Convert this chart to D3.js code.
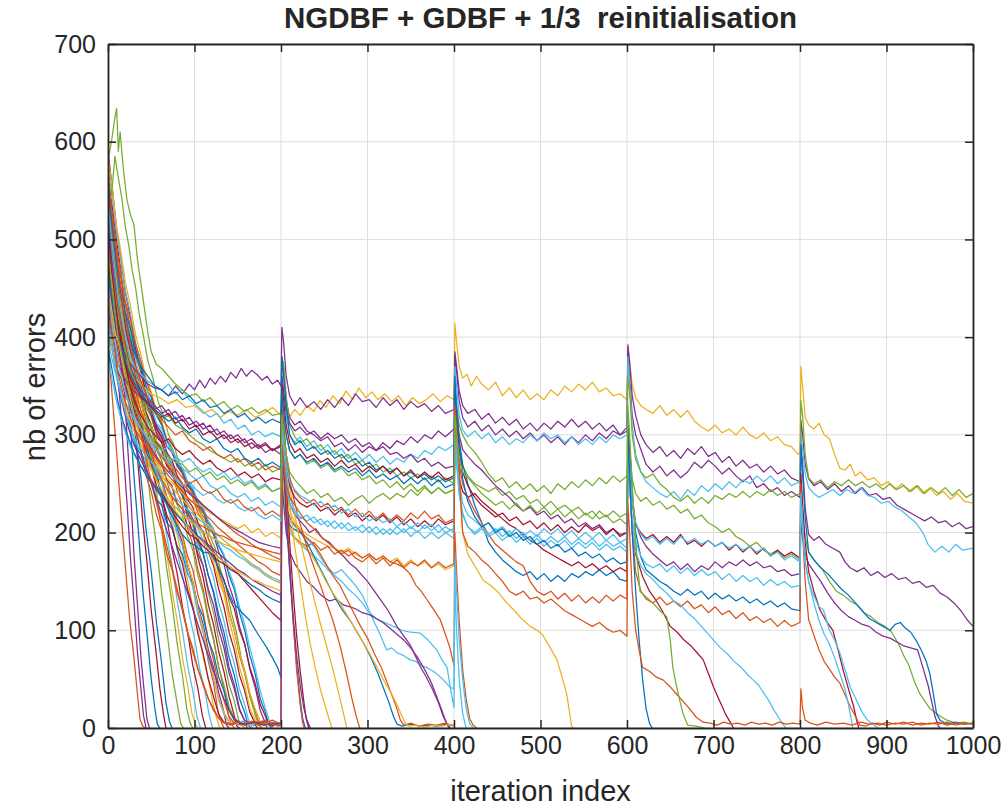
<!DOCTYPE html>
<html><head><meta charset="utf-8">
<script src="https://cdn.jsdelivr.net/npm/d3@7"></script>
<style>body{margin:0;background:#fff}svg{display:block}text{font-family:"Liberation Sans",Arial,Helvetica,sans-serif;fill:#262626}</style>
</head><body>
<script>
const titleText = "NGDBF + GDBF + 1/3  reinitialisation";
const xLabel = "iteration index";
const yLabel = "nb of errors";
const xTicks = [0,100,200,300,400,500,600,700,800,900,1000];
const yTicks = [0,100,200,300,400,500,600,700];
const palette = ["#0072BD","#D95319","#EDB120","#7E2F8E","#77AC30","#4DBEEE","#A2142F"];

// long runs: lines that survive one or more reinitialisations (iteration, errors pairs)
const longRuns = [
 [0,455,4,430,8,405,12,395,16,380,22,372,28,360,35,355,42,348,50,342,60,338,70,332,80,336,90,328,100,330,110,322,120,326,130,318,140,324,150,320,160,326,170,318,180,322,190,328,200,320,
  201,335,203,342,206,328,210,318,216,326,222,320,230,330,238,324,245,335,252,328,260,340,268,332,275,345,283,336,290,348,298,338,305,344,312,336,320,342,328,334,336,340,344,330,352,338,360,332,368,336,376,342,384,334,392,340,400,336,
  401,414,403,395,406,370,410,358,415,362,420,350,426,360,432,352,440,346,448,354,456,340,464,348,472,338,480,346,488,336,496,342,504,336,512,346,520,340,528,350,536,344,544,352,552,346,560,354,568,344,576,348,584,340,592,342,600,336,
  601,390,603,375,606,352,610,338,616,330,622,326,630,322,638,330,646,320,654,326,662,318,670,325,678,314,686,308,694,304,702,310,710,302,718,306,726,300,734,308,742,300,750,296,758,302,766,294,774,298,782,290,790,288,798,280,800,282,
  801,370,803,350,806,318,810,310,816,306,822,312,828,300,834,296,840,280,846,266,852,264,858,270,864,258,870,262,878,254,886,256,894,248,902,252,910,244,918,250,926,242,934,248,942,240,950,246,958,238,966,242,974,234,982,240,990,232,1000,230],
 [0,470,4,440,8,420,12,400,18,385,24,375,30,368,38,360,46,352,54,348,62,346,70,340,78,350,86,342,94,352,100,346,106,356,112,348,118,358,124,352,130,360,136,354,142,364,148,358,154,368,160,360,166,366,172,362,178,356,184,360,190,352,196,356,200,350,
  201,410,203,395,206,360,210,340,216,330,222,338,230,328,238,334,246,326,254,336,262,328,270,338,278,330,286,342,294,334,302,336,310,328,318,338,326,330,334,336,342,326,350,334,358,328,366,332,374,324,382,330,390,322,400,326,
  401,385,403,370,406,345,410,330,416,322,424,326,432,316,440,322,448,312,456,318,464,310,472,316,480,306,488,312,496,304,504,312,512,306,520,314,528,308,536,316,544,308,552,314,560,306,568,312,576,304,584,310,592,300,600,304,
  601,392,603,375,606,340,610,320,616,300,622,290,630,282,638,288,646,278,654,284,662,276,670,286,678,280,686,288,694,278,702,282,710,272,718,278,726,268,734,274,742,266,750,270,758,262,766,268,774,260,782,264,790,256,800,252,
  801,315,803,300,806,270,810,255,816,248,824,252,832,244,840,250,848,242,856,248,864,240,872,246,880,238,888,240,896,234,904,236,912,228,920,224,928,220,936,216,944,212,952,216,960,210,968,212,976,206,984,210,992,204,1000,206],
 [0,520,4,480,8,450,12,420,18,395,24,375,30,360,38,345,46,338,54,330,62,322,70,326,78,316,86,320,94,310,102,314,110,306,118,310,126,300,134,304,142,296,150,300,158,292,166,296,174,288,182,292,190,284,200,288,
  201,380,203,362,206,335,210,318,216,310,222,314,230,304,238,300,246,294,254,298,262,288,270,292,278,284,286,290,294,282,302,288,310,284,318,292,326,286,334,294,342,290,350,298,358,292,366,300,374,296,382,304,390,298,400,306,
  401,380,403,365,406,335,410,318,416,308,424,314,432,304,440,310,448,300,456,306,464,298,472,304,480,296,488,302,496,294,504,300,512,292,520,298,528,290,536,298,544,292,552,300,560,294,568,302,576,296,584,304,592,300,600,308,
  601,385,603,360,606,320,610,300,616,285,622,270,630,262,638,268,646,258,654,264,662,256,670,262,678,272,686,266,694,274,702,268,710,260,718,266,726,258,734,252,742,258,750,246,758,250,766,242,774,246,782,238,790,242,800,236,
  801,290,803,270,806,225,810,198,816,192,822,196,830,188,838,184,846,180,852,170,858,164,866,160,874,164,882,156,890,160,898,154,906,158,914,152,922,154,930,148,938,150,946,144,954,146,962,138,970,134,978,128,986,120,994,110,1000,104],
 [0,540,4,500,8,470,12,440,18,410,24,385,30,370,38,362,46,355,54,350,62,346,70,352,78,342,86,346,94,336,102,330,110,324,118,318,126,322,134,312,142,316,150,306,158,310,166,300,174,304,182,298,190,302,200,298,
  201,360,203,345,206,320,210,300,216,292,222,298,230,288,238,294,246,284,254,290,262,280,270,286,278,276,286,282,294,274,302,280,310,272,318,278,326,270,334,276,342,272,350,280,358,276,366,284,374,280,382,288,390,284,400,290,
  401,370,403,350,406,320,410,305,416,298,424,304,432,296,440,302,448,292,456,298,464,290,472,296,480,292,488,300,496,294,504,302,512,296,520,300,528,292,536,298,544,290,552,296,560,290,568,298,576,292,584,300,592,296,600,300,
  601,380,603,355,606,310,610,280,616,262,622,252,630,246,638,240,646,236,654,242,662,234,670,244,678,238,686,248,694,242,702,250,710,244,718,252,726,246,734,254,742,250,750,258,758,252,766,258,774,250,782,256,790,248,800,252,
  801,300,803,285,806,260,810,246,816,240,822,236,830,240,838,244,846,238,854,244,862,240,870,246,878,238,886,236,894,230,902,232,910,226,918,222,926,216,934,210,942,200,948,188,956,180,964,186,972,180,980,188,988,182,1000,184],
 [0,580,4,600,8,625,10,634,12,590,14,610,18,570,22,540,26,525,30,515,34,480,38,455,42,430,46,405,50,385,56,372,62,368,70,360,78,352,86,346,94,340,102,342,110,334,118,338,126,330,134,334,142,326,150,330,158,324,166,328,174,322,182,326,190,320,200,322,
  201,370,203,375,206,340,210,310,216,298,222,292,230,296,238,286,246,290,254,280,262,284,270,276,278,280,286,270,294,274,302,266,310,270,318,262,326,266,334,258,342,262,350,256,358,260,366,254,374,258,382,252,390,256,400,250,
  401,350,403,330,406,310,410,300,416,290,424,282,432,272,440,260,448,252,456,256,464,246,472,252,480,244,488,250,496,242,504,248,512,240,520,250,528,244,536,252,544,246,552,254,560,248,568,256,576,250,584,258,592,252,600,258,
  601,360,603,345,606,300,610,275,616,262,622,256,630,260,638,250,646,244,654,236,662,232,670,238,678,230,686,236,694,230,702,238,710,234,718,240,726,236,734,242,742,236,750,242,758,238,766,244,774,238,782,242,790,236,800,240,
  801,335,803,320,806,280,810,256,816,250,824,254,832,246,840,252,848,248,856,254,864,248,872,252,880,246,888,250,896,244,904,250,912,244,920,248,928,242,936,248,944,240,952,246,960,240,968,246,976,238,984,244,992,236,1000,240],
 [0,500,4,470,8,445,12,420,18,395,24,372,30,355,38,340,46,330,54,322,62,316,70,320,78,310,86,306,94,300,102,294,110,290,118,284,126,280,134,276,142,272,150,276,158,268,166,272,174,264,182,270,190,262,200,266,
  201,330,203,320,206,300,210,284,216,276,222,280,230,270,238,274,246,266,254,270,262,262,270,266,278,258,286,262,294,254,302,258,310,250,318,254,326,246,334,252,342,244,350,250,358,242,366,248,374,240,382,246,390,240,400,244,
  401,330,403,310,406,285,410,268,416,258,424,250,432,246,440,242,448,246,456,238,464,242,472,234,480,238,488,230,496,234,504,226,512,232,520,224,528,228,536,222,544,226,552,218,560,222,568,214,576,218,584,210,592,214,600,208,
  601,300,603,285,606,255,610,240,616,232,622,236,630,228,638,232,646,224,654,228,662,220,670,224,678,214,686,218,694,210,702,206,710,200,718,204,726,196,734,192,742,186,750,190,758,182,766,178,774,182,782,174,790,178,800,172,
  801,230,803,215,806,195,810,180,818,170,826,162,834,150,842,140,850,136,858,130,866,126,874,118,882,114,890,108,898,104,906,98,914,86,920,74,926,64,932,48,938,36,944,28,950,20,956,16,962,12,970,8,980,5,990,6,1000,4],
 [0,430,4,405,8,390,12,372,18,360,24,350,30,345,38,338,46,332,54,326,62,330,70,320,78,324,86,314,94,318,102,308,110,312,118,302,126,306,134,296,142,300,150,292,158,296,166,286,174,290,182,282,190,286,200,280,
  201,360,203,345,206,325,210,312,216,304,222,308,230,300,238,304,246,296,254,302,262,296,270,300,278,292,286,296,294,288,302,292,310,284,318,288,326,280,334,282,342,276,350,280,358,272,366,276,374,268,382,272,390,266,400,268,
  401,345,403,325,406,300,410,285,416,278,424,270,432,264,440,256,448,248,456,242,464,236,472,228,480,222,488,226,496,218,504,222,512,214,520,218,528,210,536,214,544,206,552,210,560,204,568,208,576,200,584,204,592,198,600,200,
  601,290,603,270,606,235,610,210,616,195,622,186,630,178,638,172,646,166,654,170,662,162,670,168,678,160,686,166,694,162,702,170,710,164,718,170,726,166,734,172,742,166,750,170,758,164,766,166,774,160,782,162,790,156,800,158,
  801,210,803,195,806,178,810,168,816,160,824,150,832,138,840,128,848,120,856,114,864,110,872,106,880,104,888,98,896,94,904,92,912,88,920,84,928,82,936,80,942,62,948,44,952,28,956,12,960,2,962,0],
 [0,560,4,520,8,490,12,460,18,430,24,405,30,385,38,370,46,360,54,350,62,346,70,340,78,344,86,336,94,340,102,332,110,336,118,328,126,330,134,322,142,326,150,318,158,322,166,314,174,318,182,312,190,316,200,312,
  201,380,203,362,206,330,210,300,216,290,222,294,230,284,238,288,246,280,254,284,262,276,270,280,278,272,286,276,294,268,302,272,310,264,318,268,326,262,334,266,342,258,350,262,358,256,366,260,374,254,382,258,390,252,400,256,
  401,340,403,320,406,295,410,270,416,250,424,228,432,210,440,190,448,180,456,172,464,166,472,160,480,156,488,160,496,152,504,158,512,150,520,156,528,150,536,158,544,154,552,160,560,156,568,162,576,156,584,160,592,152,600,150,
  601,320,603,290,606,240,610,200,616,175,622,162,630,156,638,150,646,146,654,140,662,136,670,142,678,136,686,140,694,132,702,138,710,132,718,136,726,130,734,134,742,128,750,132,758,126,766,130,774,124,782,128,790,122,800,120,
  801,290,803,260,806,215,810,180,816,172,824,164,832,158,840,150,848,142,856,136,864,128,872,120,880,112,888,108,896,104,904,100,910,106,916,108,922,102,928,98,934,90,940,80,946,68,950,56,954,36,958,14,962,8,970,4,980,6,990,4,1000,5],
 [0,480,4,450,8,425,12,400,18,380,24,362,30,350,38,340,46,332,54,324,62,318,70,322,78,312,86,316,94,306,102,310,110,300,118,304,126,296,134,300,142,292,150,296,158,288,166,292,174,286,182,290,190,284,200,290,
  201,350,203,335,206,310,210,292,216,282,222,286,230,276,238,280,246,272,254,276,262,268,270,274,278,266,286,270,294,262,302,268,310,262,318,268,326,260,334,266,342,258,350,264,358,256,366,262,374,256,382,262,390,254,400,258,
  401,330,403,310,406,285,410,262,416,248,424,236,432,228,440,222,448,216,456,220,464,212,472,216,480,208,488,212,496,204,504,210,512,202,520,208,528,200,536,206,544,200,552,208,560,202,568,206,576,198,584,204,592,196,600,200,
  601,300,603,270,606,230,610,208,616,200,622,194,630,198,638,190,646,196,654,190,662,198,670,188,678,192,686,186,694,192,702,186,710,190,718,182,726,188,734,180,742,186,750,178,758,184,766,176,774,182,782,176,790,180,800,174,
  801,260,803,230,806,190,810,160,816,140,823,121,830,110,838,100,844,80,850,59,856,40,862,22,866,6,868,0],
 [0,510,4,470,8,440,12,410,18,380,24,355,30,336,38,320,46,308,54,300,62,292,70,296,78,286,86,280,94,284,102,276,110,270,118,274,126,266,134,262,142,266,150,258,158,262,166,256,174,260,182,252,190,256,200,254,
  201,320,203,300,206,270,210,248,216,236,222,230,230,226,238,230,246,222,254,226,262,218,270,224,278,216,286,220,294,212,302,218,310,212,318,218,326,210,334,216,342,208,350,214,358,206,366,212,374,206,382,214,390,208,400,212,
  401,300,403,280,406,255,410,242,416,236,424,240,432,232,440,226,448,220,456,214,464,208,472,204,480,198,488,192,496,188,504,182,512,178,520,174,528,170,536,166,544,170,552,164,560,168,568,162,576,166,584,160,592,164,600,160,
  601,280,603,250,606,205,610,178,618,155,626,140,634,130,642,118,650,104,658,98,666,90,674,84,682,76,688,70,694,56,700,42,707,28,714,14,720,5,723,0],
 [0,570,4,530,8,500,12,470,18,430,24,400,30,375,38,355,46,338,54,326,62,316,70,308,78,300,86,304,94,294,102,290,110,284,118,288,126,280,134,276,142,280,150,272,158,276,166,268,174,272,182,264,190,268,200,264,
  201,330,203,310,206,280,210,256,216,242,222,236,230,230,238,234,246,226,254,230,262,222,270,226,278,218,286,224,294,216,302,222,310,214,318,220,326,212,334,218,342,212,350,220,358,214,366,222,374,214,382,218,390,210,400,214,
  401,320,403,300,406,270,410,250,416,236,424,222,432,210,440,198,448,188,456,182,464,176,472,170,480,166,488,150,496,140,504,136,512,140,520,132,528,138,536,130,544,136,552,128,560,134,568,128,576,136,584,130,592,136,600,132,
  601,290,603,260,606,200,610,160,616,140,622,132,630,128,638,134,646,126,654,130,662,124,670,130,678,122,686,126,694,118,702,124,710,116,718,120,726,112,734,118,742,110,750,114,758,108,766,112,774,104,782,110,790,104,800,108,
  801,250,803,200,806,150,810,111,816,95,822,80,828,68,835,59,840,52,846,46,852,34,858,22,864,12,869,3,876,2,884,5,892,3,900,6,910,4,920,6,930,3,940,5,950,4,960,6,970,3,980,5,990,4,1000,5],
 [0,450,4,420,8,395,12,372,18,350,24,334,30,320,38,306,46,296,54,286,62,280,70,272,78,276,86,266,94,260,102,254,110,258,118,248,126,244,134,248,142,240,150,236,158,240,166,232,174,236,182,228,190,232,200,226,
  201,300,203,285,206,260,210,236,216,222,222,216,230,212,238,216,246,208,254,212,262,204,270,210,278,202,286,206,294,200,302,206,310,198,318,204,326,198,334,206,342,200,350,206,358,200,366,208,374,202,382,208,390,200,400,204,
  401,300,403,280,406,250,410,230,416,218,424,212,432,206,440,210,448,202,456,206,464,198,472,204,480,196,488,202,496,196,504,204,512,198,520,204,528,196,536,202,544,194,552,200,560,194,568,200,576,192,584,198,592,190,600,194,
  601,290,603,270,606,232,610,210,616,198,622,192,630,196,638,188,646,194,654,188,662,196,670,190,678,194,686,188,694,192,702,186,710,190,718,184,726,188,734,182,742,186,750,180,758,184,766,176,774,180,782,172,790,176,800,170,
  801,240,803,210,806,170,810,150,816,135,822,124,827,121,834,100,840,90,846,77,852,60,858,42,865,29,872,16,878,8,884,4,890,0],
 [0,400,4,380,8,365,12,352,18,338,24,326,30,316,38,306,46,298,54,290,62,284,70,288,78,278,86,272,94,276,102,268,110,262,118,266,126,258,134,262,142,254,150,258,158,250,166,254,174,246,182,250,190,242,200,246,
  201,310,203,295,206,270,210,252,216,244,222,238,230,234,238,228,246,232,254,224,262,228,270,220,278,224,286,216,294,220,302,212,310,216,318,210,326,214,334,206,342,212,350,204,358,210,366,204,374,208,382,200,390,206,400,200,
  401,290,403,270,406,240,410,220,416,206,424,198,432,204,440,196,448,200,456,192,464,198,472,190,480,196,488,188,496,194,504,186,512,192,520,186,528,192,536,184,544,190,552,184,560,190,568,182,576,188,584,182,592,186,600,180,
  601,280,603,255,606,215,610,190,616,176,622,168,630,164,638,168,646,160,654,166,662,158,670,164,678,156,686,162,694,156,702,160,710,152,718,158,726,150,734,156,742,150,750,154,758,146,766,152,774,146,782,150,790,144,800,146,
  801,230,803,205,806,170,810,150,816,128,822,110,828,96,834,86,840,72,846,56,852,40,856,24,859,10,861,0],
 [0,420,4,395,8,372,12,352,18,330,24,312,30,298,38,286,46,276,54,268,62,260,70,264,78,254,86,248,94,252,102,244,110,238,118,242,126,234,134,230,142,234,150,226,158,222,166,226,174,218,182,214,190,218,200,212,
  201,290,203,275,206,248,210,230,216,220,222,214,230,218,238,210,246,214,254,206,262,212,270,204,278,210,286,202,294,208,302,200,310,206,318,198,326,204,334,198,342,204,350,196,358,202,366,194,374,200,382,194,390,200,400,194,
  401,300,403,275,406,240,410,218,416,206,424,200,432,206,440,198,448,204,456,196,464,202,472,194,480,200,488,192,496,198,504,190,512,196,520,190,528,196,536,188,544,194,552,188,560,194,568,186,576,192,584,186,592,190,600,184,
  601,280,603,250,606,205,610,180,616,166,622,158,630,152,638,144,646,138,654,130,662,126,670,118,678,112,686,104,694,96,700,90,708,82,716,76,724,68,732,62,740,54,746,49,752,44,758,36,764,28,770,18,776,10,780,4,784,0],
 [0,470,4,445,8,420,12,400,18,382,24,366,30,354,38,342,46,334,54,326,62,320,70,314,78,318,86,308,94,302,102,306,110,296,118,292,126,296,134,286,142,282,150,286,158,276,166,272,174,276,182,268,190,272,200,266,
  201,345,203,325,206,300,210,284,216,276,222,280,230,272,238,276,246,268,254,272,262,264,270,268,278,262,286,266,294,258,302,264,310,256,318,260,326,254,334,258,342,250,350,256,358,250,366,256,374,248,382,254,390,246,400,250,
  401,360,403,330,406,290,410,255,416,232,424,216,432,206,440,210,448,200,456,204,464,196,472,200,480,192,488,196,496,188,504,192,512,184,520,188,528,180,536,184,544,176,552,180,560,174,568,178,576,170,584,174,592,168,600,170,
  601,300,603,260,606,200,610,140,614,90,618,50,622,20,626,5,629,0],
 [0,440,4,410,8,385,12,362,18,340,24,322,30,308,38,296,46,286,54,278,62,270,70,262,78,266,86,256,94,250,102,254,110,244,118,240,126,244,134,234,142,230,150,234,158,226,166,222,174,226,182,218,190,222,200,216,
  201,290,203,275,206,250,210,236,216,228,222,220,230,210,238,204,246,196,254,190,262,184,270,178,278,182,286,174,294,170,302,176,310,168,318,174,326,166,334,172,342,164,350,170,358,166,366,172,374,164,382,170,390,164,400,168,
  401,330,403,305,406,270,408,230,410,200,416,186,424,180,432,172,440,166,448,158,456,150,464,140,472,136,480,140,488,132,496,134,504,128,512,132,520,126,528,120,536,116,544,112,552,108,560,104,568,108,576,102,584,98,592,100,600,94,
  601,230,603,200,606,140,610,100,614,80,618,62,626,58,634,52,642,49,650,42,658,34,664,28,672,20,680,11,688,6,696,5,704,3,712,6,720,4,728,5,736,3,744,6,752,4,760,5,768,3,776,6,784,4,792,5,800,4,
  801,40,803,20,806,8,812,5,820,3,830,6,840,4,850,5,860,3,870,6,880,4,890,5,900,3,910,5,920,4,930,6,940,3,950,5,960,4,970,6,980,3,990,5,1000,4],
 [0,490,4,455,8,425,12,398,18,374,24,350,30,330,38,314,46,302,54,292,62,284,70,278,78,272,86,270,94,262,102,266,110,258,118,262,126,254,134,258,142,250,150,254,158,248,166,252,174,244,182,248,190,242,200,246,
  201,320,203,305,206,280,210,262,216,254,222,248,230,240,238,244,246,236,254,240,262,232,270,236,278,228,286,234,294,238,302,230,310,236,318,240,326,234,334,240,342,236,350,244,358,238,366,246,374,240,382,246,390,240,400,244,
  401,320,403,300,406,275,410,262,416,256,424,248,432,240,440,234,448,228,456,232,464,224,472,230,480,222,488,228,496,220,504,226,512,218,520,224,528,216,536,222,544,214,552,220,560,214,568,222,576,216,584,222,592,216,600,220,
  601,330,603,300,606,250,610,190,615,140,622,134,630,128,638,120,646,114,650,90,653,62,657,44,661,28,665,14,670,3,680,2,690,0]
];
const longColors = [2,3,3,5,4,4,3,0,6,6,1,5,5,5,0,1,4];

// runs that are reinitialised once or twice and then converge
const midRuns = [
 [0,500,4,460,8,425,12,395,18,362,24,335,30,315,38,298,46,284,54,272,62,262,70,254,78,248,86,240,94,234,102,230,110,226,118,220,126,216,134,212,142,208,150,204,158,208,166,200,174,204,182,196,190,200,200,194,
  201,300,203,280,206,245,210,222,216,210,222,204,230,198,238,194,246,190,254,186,262,184,270,180,278,184,286,178,294,174,302,178,310,172,318,176,326,170,334,174,342,166,350,172,358,166,366,170,374,164,382,168,390,162,400,166,
  401,330,403,300,406,250,410,200,416,178,424,166,434,151,442,146,450,140,461,128,470,120,478,112,488,104,496,100,502,96,510,84,519,70,524,55,530,36,534,14,536,2,538,0],
 [0,540,4,500,8,470,12,440,18,405,24,375,30,350,38,325,46,305,54,290,62,278,70,268,78,258,86,250,94,242,102,236,110,228,118,222,126,216,134,210,142,204,150,198,158,194,166,188,174,184,182,180,190,176,200,172,
  201,280,203,260,206,225,210,205,216,195,222,190,230,186,238,190,246,182,254,186,262,178,270,182,278,176,286,180,294,174,302,178,310,172,318,176,326,170,334,168,342,164,349,158,356,146,362,140,369,131,376,122,384,111,390,96,395,83,400,64,
  401,200,403,160,406,110,410,60,414,30,418,10,422,3,426,0],
 [0,380,4,360,8,342,12,326,18,308,24,292,30,280,38,268,46,258,54,248,62,240,70,232,78,226,86,220,94,214,102,208,110,202,118,196,126,192,134,186,142,182,150,176,158,172,166,166,174,162,182,156,190,152,200,148,
  201,260,203,245,206,225,210,212,216,206,222,200,230,194,238,186,246,174,254,164,262,158,270,162,278,154,286,146,294,136,300,124,307,110,314,97,322,80,328,82,334,77,342,74,349,70,356,68,362,64,368,62,376,58,382,54,388,49,395,42,400,40,
  401,180,403,140,406,90,410,50,414,20,418,5,422,0],
 [0,430,4,400,8,375,12,352,18,330,24,310,30,296,38,282,46,270,54,260,62,252,70,244,78,236,86,228,94,222,102,216,110,210,118,204,126,198,134,192,142,186,150,180,158,174,166,168,174,164,182,158,190,154,200,150,
  201,250,203,235,206,212,210,200,216,194,222,188,230,182,238,176,246,170,254,162,262,156,270,150,278,142,286,136,294,128,300,120,310,112,320,108,330,104,340,100,350,98,361,97,370,90,380,80,386,70,392,62,396,40,400,21,
  401,150,403,100,406,50,410,15,414,0],
 [0,460,4,430,8,405,12,382,18,358,24,338,30,322,38,306,46,292,54,280,62,270,70,262,78,254,86,246,94,240,102,234,110,228,118,222,126,216,134,210,142,206,150,202,158,198,166,194,174,190,182,188,190,186,200,184,
  201,300,203,280,206,250,210,230,216,218,222,212,228,206,233,200,240,204,248,194,256,190,264,182,272,176,280,168,286,164,294,156,300,150,308,140,316,130,324,120,334,104,342,94,350,84,361,63,368,52,375,40,382,26,388,11,392,4,396,0],
 [0,420,4,395,8,372,12,350,18,326,24,306,30,290,38,274,46,260,54,248,62,238,70,228,78,220,86,212,94,206,102,198,110,192,118,186,126,180,134,174,142,168,150,162,158,158,166,152,174,148,182,144,190,140,200,136,
  201,250,203,230,206,200,210,180,216,168,222,160,230,150,238,144,244,138,249,134,256,130,264,132,272,126,280,124,286,122,294,118,302,116,310,112,318,108,326,102,334,96,342,90,350,82,358,72,366,60,374,46,380,32,386,18,390,8,394,0],
 [0,390,4,370,8,350,12,332,18,312,24,296,30,282,38,268,46,256,54,246,62,236,70,228,78,220,86,212,94,204,102,198,110,190,118,184,126,176,134,170,142,164,150,158,158,152,166,146,174,142,182,136,190,132,200,128,
  201,260,203,240,206,215,212,205,218,202,223,200,230,190,238,176,246,162,254,148,262,134,270,122,280,110,288,98,296,86,304,72,312,56,318,42,324,28,330,12,334,4,340,2,350,4,360,2,370,3,380,2,390,4,400,3],
 [0,455,4,425,8,400,12,378,18,354,24,334,30,318,38,302,46,290,54,278,62,268,70,258,78,250,86,242,94,234,102,228,110,220,118,214,126,206,134,200,142,194,150,188,158,182,166,176,174,170,182,166,190,160,200,156,
  201,270,203,250,206,225,212,212,220,204,228,196,236,190,244,180,252,168,260,156,268,146,276,132,284,118,292,104,300,92,308,76,316,62,322,48,328,34,334,20,338,8,342,3,350,5,360,2,370,4,380,3,390,5,400,2],
 [0,410,4,390,8,372,12,354,18,334,24,318,30,304,38,290,46,278,54,268,62,258,70,250,78,242,86,234,94,226,102,220,110,212,118,206,126,198,134,192,142,186,150,180,158,174,166,168,174,162,182,158,190,152,200,148,
  201,265,203,245,206,215,212,200,220,190,228,186,236,176,244,164,252,150,260,138,268,128,276,116,284,104,292,92,300,80,310,64,318,50,326,38,334,24,340,12,344,4,348,2,356,3,366,1,376,3,386,2,396,4,400,2],
 [0,500,5,465,10,432,15,402,20,375,26,348,32,324,38,302,44,284,50,268,56,254,62,242,70,228,78,216,86,206,94,198,102,194,110,186,118,180,126,172,134,168,142,162,150,158,158,150,166,142,174,134,182,126,190,118,200,110,
  201,330,203,300,206,250,210,190,214,140,218,95,222,60,226,30,229,10,232,0],
 [0,530,5,490,10,454,15,420,20,390,26,360,32,334,38,310,44,290,50,272,56,256,62,240,70,224,78,210,86,198,94,190,102,186,110,180,118,179,126,168,134,150,145,128,155,118,164,110,172,98,183,83,190,72,196,62,200,52,
  201,300,203,270,206,220,210,160,214,110,218,65,222,30,225,10,228,0],
 [0,480,5,445,10,412,15,384,20,360,26,336,32,314,38,296,44,280,50,266,56,254,62,244,70,232,78,222,86,214,94,204,102,196,110,190,118,182,126,176,134,170,142,164,150,160,158,156,166,152,174,150,182,146,190,144,200,140,
  201,310,205,270,210,230,216,185,222,150,228,115,234,85,240,60,246,38,252,20,256,8,259,0],
 [0,440,5,412,10,386,15,364,20,344,26,324,32,306,38,290,44,276,50,264,56,254,62,244,70,234,78,226,86,218,94,212,102,206,110,200,118,196,126,192,134,188,142,186,150,182,158,180,166,178,174,176,182,174,190,172,200,170,
  201,320,206,270,212,235,220,200,228,170,236,140,244,112,252,86,260,60,266,38,272,16,276,0],
 [0,510,5,475,10,442,15,412,20,386,26,360,32,336,38,314,44,296,50,280,56,266,62,254,70,242,78,232,86,224,94,216,102,210,110,206,118,202,126,198,134,196,142,192,150,190,158,188,166,186,174,184,182,182,190,180,200,178,
  201,330,206,280,212,245,220,215,230,185,240,160,250,135,260,110,268,85,276,55,282,30,287,12,291,0],
 [0,545,5,500,10,460,15,424,20,392,26,360,32,330,38,302,44,276,50,252,56,230,62,208,68,186,74,164,80,142,86,120,92,98,98,78,104,60,110,44,116,30,122,18,128,10,134,6,142,4,150,7,158,3,166,6,174,4,182,8,190,3,200,5,
  201,340,203,300,206,240,210,170,214,110,218,60,222,25,225,5,227,0],
 [0,465,5,432,10,402,15,374,20,350,26,326,32,304,38,284,44,266,50,250,56,234,62,218,68,202,74,186,80,170,86,154,92,138,98,122,104,106,110,90,116,74,122,58,128,44,134,30,140,18,146,10,152,5,160,4,170,6,180,3,190,5,200,4,
  201,300,203,270,206,220,210,165,214,115,218,75,222,45,226,22,230,8,234,0]
];
const midColors = [2,1,5,5,3,3,0,1,2,6,0,2,2,1,1,3];

// runs that converge before the first reinitialisation
const fastRuns = [
 [0,395,5,338,10,282,15,220,20,166,25,112,30,72,34,35,37,9,40,2,43,0],
 [0,470,5,422,10,372,14,333,18,279,22,230,26,174,30,128,34,78,38,41,41,13,44,0],
 [0,500,5,468,10,443,14,408,18,362,22,298,26,243,30,178,34,127,38,73,42,36,45,9,48,0],
 [0,530,5,502,10,468,15,433,20,378,25,322,30,258,35,203,40,143,45,97,50,50,54,21,57,4,60,0],
 [0,560,5,533,10,498,15,467,20,418,25,372,30,316,35,267,40,213,45,170,50,120,55,82,60,40,64,15,67,0],
 [0,480,5,452,10,423,15,402,20,370,26,343,32,298,38,257,44,203,50,160,56,108,62,66,67,26,71,7,74,0],
 [0,505,5,476,10,454,15,426,20,406,26,374,32,347,38,308,44,272,50,226,56,187,62,138,68,100,74,56,80,25,84,5,87,0],
 [0,520,5,497,10,468,15,450,20,423,26,402,32,370,38,344,44,308,50,278,56,238,62,204,68,162,74,128,80,86,86,54,91,20,95,5,98,0],
 [0,470,5,448,10,432,15,408,20,394,26,370,32,352,38,324,44,302,50,270,56,244,62,208,68,178,74,140,80,110,86,72,92,44,97,15,101,4,104,0],
 [0,550,5,522,10,488,15,464,20,434,26,410,32,378,38,354,44,320,50,294,56,260,62,232,68,196,74,167,80,130,86,100,92,64,98,38,103,11,107,0],
 [0,545,5,508,10,480,15,446,20,422,26,388,32,364,38,334,44,312,50,284,56,264,62,236,68,214,74,183,80,158,86,124,92,98,98,64,104,40,109,13,113,0],
 [0,500,5,477,10,448,16,424,22,394,28,374,34,348,40,332,46,308,52,292,58,268,64,250,70,223,76,202,82,172,88,148,94,116,100,92,106,60,112,38,117,13,121,0],
 [0,455,5,430,10,412,15,388,20,374,26,350,32,336,38,316,44,304,50,284,56,272,62,252,68,238,74,214,80,198,86,172,92,152,98,124,104,102,110,72,116,50,122,22,126,9,129,0],
 [0,525,5,497,10,466,15,444,20,416,26,394,32,366,38,348,44,324,50,310,56,288,62,274,68,252,74,236,80,212,86,194,92,168,98,148,104,120,110,98,116,68,122,46,127,18,131,6,134,0],
 [0,400,5,387,10,368,15,358,20,340,26,330,32,312,38,302,44,286,50,278,56,262,62,254,68,236,74,224,80,204,86,190,92,166,98,150,104,124,110,106,116,80,122,62,128,36,133,20,137,3,140,0],
 [0,560,5,527,10,490,15,464,20,434,26,410,32,382,38,364,44,340,50,326,56,306,62,294,68,274,74,262,80,242,86,228,92,204,98,188,104,162,110,142,116,114,122,92,128,62,134,40,139,14,143,4,146,0],
 [0,590,5,552,10,510,15,480,20,446,26,420,32,388,38,368,44,342,50,328,56,308,62,298,68,280,74,270,80,250,86,238,92,216,98,200,104,174,110,154,116,126,122,106,128,78,134,58,140,32,145,16,149,2,152,0],
 [0,470,5,454,10,432,15,418,20,396,26,382,32,360,38,348,44,328,50,318,56,300,62,292,68,276,74,268,80,252,86,242,92,222,98,208,104,184,110,166,116,138,122,118,128,90,134,70,140,44,146,28,151,8,155,3,158,0],
 [0,510,5,487,10,458,15,440,20,414,26,396,32,370,38,354,44,332,50,320,56,302,62,292,68,274,74,266,80,250,86,242,92,224,98,214,104,194,110,180,116,156,122,138,128,110,134,90,140,62,146,44,152,20,157,9,161,0],
 [0,440,5,427,10,408,15,398,20,380,26,368,32,348,38,338,44,320,50,310,56,294,62,286,68,270,74,262,80,246,86,238,92,220,98,210,104,190,110,178,116,156,122,140,128,116,134,98,140,72,146,54,152,30,158,16,162,3,165,0],
 [0,575,5,542,10,506,15,480,20,448,26,424,32,394,38,374,44,348,50,332,56,310,62,298,68,280,74,270,80,254,86,246,92,230,98,222,104,204,110,192,116,170,122,154,128,128,134,110,140,84,146,66,152,40,158,24,163,6,167,0],
 [0,490,5,472,10,448,15,432,20,408,26,392,32,368,38,354,44,334,50,324,56,306,62,298,68,282,74,274,80,258,86,250,92,234,98,226,104,210,110,200,116,180,122,166,128,142,134,124,140,98,146,80,152,54,158,38,164,16,169,7,172,0],
 [0,585,5,552,10,513,15,487,20,456,26,432,32,402,38,382,44,358,50,344,56,324,62,314,68,296,74,288,80,272,86,264,92,248,98,240,104,224,110,214,116,194,122,180,128,156,134,138,140,110,146,90,152,62,158,44,164,20,170,9,174,0],
 [0,530,5,507,10,478,15,460,20,436,26,418,32,392,38,376,44,354,50,342,56,322,62,312,68,294,74,284,80,268,86,260,92,244,98,236,104,220,110,212,116,194,122,182,128,160,134,144,140,118,146,100,152,74,158,56,164,32,170,18,175,4,178,0],
 [0,560,4,545,8,585,12,563,16,542,20,513,24,494,28,468,32,450,36,424,40,406,46,376,52,358,58,334,64,320,70,300,76,290,82,272,88,262,94,246,100,238,106,222,112,214,118,196,124,184,130,162,136,146,142,120,148,100,154,72,160,52,166,26,171,11,175,2,178,0],
 [0,455,5,442,10,423,15,412,20,394,26,382,32,362,38,352,44,334,50,326,56,310,62,302,68,288,74,282,80,268,86,262,92,248,98,242,104,228,110,222,116,206,122,198,128,180,134,168,140,146,146,130,152,104,158,86,164,60,170,42,176,18,181,7,184,0],
 [0,520,5,497,10,468,15,450,20,426,26,408,32,384,38,370,44,350,50,338,56,320,62,310,68,294,74,286,80,270,86,264,92,250,98,244,104,230,110,224,116,210,122,202,128,186,134,176,140,156,146,142,152,118,158,100,164,74,170,56,176,30,182,16,186,3,189,0],
 [0,470,5,452,10,430,15,416,20,396,26,384,32,364,38,354,44,336,50,328,56,312,62,306,68,292,74,286,80,272,86,266,92,252,98,246,104,232,110,226,116,212,122,204,128,188,134,178,140,160,146,146,152,124,158,106,164,82,170,62,176,38,182,20,187,6,190,0],
 [0,555,5,512,10,472,15,440,20,410,26,386,32,360,38,344,44,322,50,310,56,292,62,284,68,268,74,262,80,248,86,242,92,228,98,222,104,208,110,200,116,186,122,178,128,162,134,152,140,134,146,122,152,100,158,86,164,62,170,46,176,24,182,12,186,4,190,2,196,4,200,3],
 [0,440,5,426,10,404,15,394,20,374,26,364,32,344,38,336,44,318,50,310,56,294,62,288,68,272,74,266,80,250,86,244,92,228,98,222,104,206,110,198,116,180,122,170,128,150,134,138,140,116,146,100,152,76,158,58,164,36,170,20,176,7,182,3,190,5,200,2],
 [0,500,5,468,10,430,15,406,20,374,26,356,32,328,38,314,44,290,50,280,56,260,62,252,68,234,74,226,80,208,86,198,92,176,98,162,104,136,110,118,116,90,122,70,128,44,134,28,140,12,146,5,154,3,162,6,170,4,178,7,186,3,194,5,200,4],
 [0,535,5,502,10,466,15,442,20,412,26,392,32,362,38,346,44,320,50,306,56,284,62,274,68,254,74,246,80,228,86,218,92,196,98,182,104,156,110,138,116,110,122,90,128,62,134,44,140,22,146,10,152,5,160,3,168,6,176,4,184,7,192,3,200,5],
 [0,560,5,522,10,478,15,448,20,410,26,386,32,354,38,336,44,310,50,298,56,278,62,270,68,254,74,248,80,230,86,224,92,206,98,198,104,178,110,166,116,142,122,126,128,100,134,82,140,56,146,40,152,18,158,8,164,4,172,6,180,3,188,5,196,2,200,3],
 [0,410,5,388,10,360,15,346,20,322,26,310,32,288,38,280,44,260,50,252,56,234,62,228,68,210,74,204,80,186,86,178,92,158,98,148,104,126,110,114,116,90,122,76,128,52,134,38,140,18,146,8,152,4,160,6,168,3,176,5,184,7,192,4,200,5],
 [0,515,5,480,10,442,15,416,20,384,26,362,32,334,38,316,44,294,50,282,56,262,62,252,68,232,74,222,80,200,86,186,92,160,98,144,104,116,110,98,116,70,122,52,128,28,134,14,140,6,148,4,156,7,164,3,172,5,180,4,190,6,200,3],
 [0,475,5,447,10,414,15,392,20,364,26,344,32,318,38,302,44,280,50,268,56,248,62,238,68,218,74,206,80,184,86,168,92,142,98,124,104,96,110,76,116,50,122,32,128,14,134,6,142,4,150,7,158,3,166,6,174,4,182,8,190,3,200,5],
 [0,520,5,490,10,456,15,432,20,402,26,380,32,352,38,334,44,310,50,296,56,276,62,264,68,244,74,232,80,210,86,194,92,168,98,150,104,122,110,102,116,74,122,54,128,30,134,16,140,7,146,4,154,6,162,3,170,5,178,4,186,6,194,3,200,4],
 [0,485,5,452,10,416,15,390,20,358,26,334,32,304,38,284,44,258,50,242,56,218,62,202,68,178,74,162,80,138,86,122,92,98,98,82,104,60,110,46,116,30,122,20,128,10,134,5,142,3,150,6,158,4,166,7,174,3,182,5,190,8,200,4]
];
const fastColors = [1,3,3,0,6,0,4,4,2,5,6,5,2,1,3,1,6,4,3,0,5,6,2,1,4,3,0,5,6,2,1,4,3,0,5,6,2,1];

const W = 1006, H = 806;
const m = {left:108, right:973, top:44, bottom:728};
const svg = d3.select("body").append("svg").attr("width",W).attr("height",H);
svg.append("rect").attr("width",W).attr("height",H).attr("fill","#fff");

const x = d3.scaleLinear().domain([0,1000]).range([m.left,m.right]);
const y = d3.scaleLinear().domain([0,700]).range([m.bottom,m.top]);

// grid
const grid = svg.append("g").attr("stroke","#dedede").attr("stroke-width",1);
grid.selectAll(".gx").data(xTicks).join("line")
  .attr("x1",d=>x(d)).attr("x2",d=>x(d)).attr("y1",m.top).attr("y2",m.bottom);
grid.selectAll(".gy").data(yTicks).join("line")
  .attr("y1",d=>y(d)).attr("y2",d=>y(d)).attr("x1",m.left).attr("x2",m.right);

svg.append("clipPath").attr("id","clip").append("rect")
  .attr("x",m.left).attr("y",m.top-1).attr("width",m.right-m.left).attr("height",m.bottom-m.top+1);

const toPairs = arr => { const p=[]; for(let i=0;i<arr.length;i+=2) p.push([arr[i],arr[i+1]]); return p; };
const line = d3.line().x(d=>x(d[0])).y(d=>y(d[1]));
const plot = svg.append("g").attr("clip-path","url(#clip)").attr("fill","none").attr("stroke-width",1.25).attr("stroke-linejoin","round");

function draw(runs, colors){
  plot.append("g").selectAll("path").data(runs).join("path")
    .attr("d",r=>line(toPairs(r)))
    .attr("stroke",(r,i)=>palette[colors[i]]);
}
draw(fastRuns, fastColors);
draw(midRuns, midColors);
draw(longRuns, longColors);

// axes (MATLAB style, inward ticks, box)
const ax = svg.append("g");
ax.append("g").attr("transform",`translate(0,${m.bottom})`)
  .call(d3.axisBottom(x).tickValues(xTicks).tickSizeInner(-8).tickSizeOuter(0).tickPadding(8).tickFormat(d3.format("d")));
ax.append("g").attr("transform",`translate(0,${m.top})`)
  .call(d3.axisTop(x).tickValues(xTicks).tickSizeInner(-8).tickSizeOuter(0).tickFormat(""));
ax.append("g").attr("transform",`translate(${m.left},0)`)
  .call(d3.axisLeft(y).tickValues(yTicks).tickSizeInner(-8).tickSizeOuter(0).tickPadding(12).tickFormat(d3.format("d")));
ax.append("g").attr("transform",`translate(${m.right},0)`)
  .call(d3.axisRight(y).tickValues(yTicks).tickSizeInner(-8).tickSizeOuter(0).tickFormat(""));
ax.selectAll(".domain").attr("stroke","#262626").attr("stroke-width",1.8);
ax.selectAll(".tick line").attr("stroke","#262626").attr("stroke-width",1.5);
ax.selectAll(".tick text").attr("font-size",25).attr("fill","#262626")
  .attr("font-family","'Liberation Sans',Arial,sans-serif");

svg.append("text").attr("x",(m.left+m.right)/2).attr("y",28).attr("text-anchor","middle")
  .attr("font-size",29.5).attr("font-weight","bold").style("white-space","pre").text(titleText);
svg.append("text").attr("x",(m.left+m.right)/2).attr("y",801).attr("text-anchor","middle")
  .attr("font-size",29).text(xLabel);
svg.append("text").attr("transform","translate(45,387) rotate(-90)").attr("text-anchor","middle")
  .attr("font-size",29).text(yLabel);
</script>
</body></html>
